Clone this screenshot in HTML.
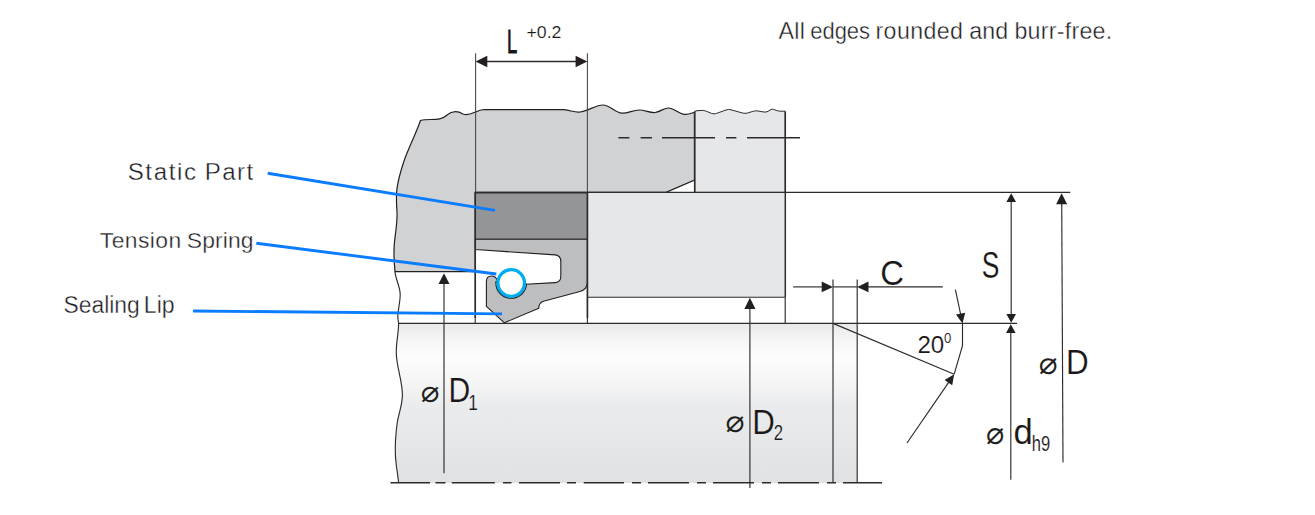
<!DOCTYPE html>
<html lang="en">
<head>
<meta charset="utf-8">
<title>Seal installation drawing</title>
<style>
html,body{margin:0;padding:0;background:#fff;}
body{width:1315px;height:515px;overflow:hidden;}
svg{display:block;}
text{font-family:"Liberation Sans","DejaVu Sans",sans-serif;}
.lbl{fill:#1c1c22;stroke:#fff;stroke-width:0.35;}
.dim{fill:#1a1718;stroke:#fff;stroke-width:0.15;}
.dia{font-family:"DejaVu Sans","Liberation Sans",sans-serif;fill:#231f20;}
.ln{stroke:#2e2b2c;fill:none;}
.ar{fill:#231f20;}
.bl{stroke:#0a7cff;stroke-width:2.9;fill:none;}
</style>
</head>
<body>
<svg width="1315" height="515" viewBox="0 0 1315 515">
<defs>
<linearGradient id="shaft" gradientUnits="userSpaceOnUse" x1="0" y1="323.4" x2="0" y2="483">
<stop offset="0" stop-color="#e8e9ea"/>
<stop offset="0.10" stop-color="#f5f5f6"/>
<stop offset="0.21" stop-color="#fdfdfd"/>
<stop offset="0.39" stop-color="#f4f4f5"/>
<stop offset="0.52" stop-color="#eaebec"/>
<stop offset="0.75" stop-color="#e6e7e8"/>
<stop offset="1" stop-color="#e0e1e2"/>
</linearGradient>
</defs>
<rect width="1315" height="515" fill="#fff"/>

<!-- shaft body -->
<path d="M395 271.6 C395.5 279 400.2 287 400.2 294.5 C400.2 302 398 310 397.8 316 C397.7 319 398.5 321 398.6 323.4 C398.6 333 396 343 396.3 353 C396.6 368 402.4 380 402.4 395 C402.4 405 398.5 414 397.2 423 C395.8 433 395 445 395.4 455 C395.8 465 398 475 398.6 483 H857.2 V323.4 H398.6 Z" fill="url(#shaft)"/>
<rect x="394" y="272" width="81" height="50.8" fill="#fff"/>

<!-- housing -->
<path d="M420.5 120.5 C430 118 440 122 447 115 C453 110 458 111 463 114 C470 117 476 110 484 109.5 L564 109.7 C570 110 575 113 580 112 C588 111 596 105 603 105 C610 105 615 113 622 113.2 C628 113.5 633 110 639 110 C645 110 650 113 655 112.5 C660 112 664 108 668.5 108 C674 108 678 113.5 684 114.3 C688 115 692 113 694.5 112.2 V180 L666 192.4 H475.4 V271.6 H395 C394 262 393.5 252 394.5 242 C395.5 232 397.5 222 397 212 C396.5 204 396 198 396.8 190 C398 180 401 170 404 161 C408 149 415 136 420.5 120.5 Z" fill="#d1d2d4" stroke="#231f20" stroke-width="1.2"/>

<!-- upper bearing block -->
<path d="M694.7 192.4 V111.2 L698 110.6 Q703.3 110 705.5 110.9 L711.5 113.4 Q714 114.4 716.5 113.4 L726 110 Q728.5 109 731 109.8 L742.5 113 Q745 113.7 747.5 113 L753.5 111.2 Q755.7 110.5 758 111 L764 112 Q766.3 112.4 768 111.3 L771 109.5 Q772.2 108.9 773.5 109.4 L777.5 110.8 Q779 111.2 781 111.2 H785.2 V192.4 Z" fill="#e6e7e8" stroke="#2e2b2c" stroke-width="1" stroke-linejoin="round"/>
<line x1="694.7" y1="111.6" x2="694.7" y2="192.4" class="ln" stroke-width="1.6"/>

<!-- lower block -->
<rect x="587.4" y="192.4" width="197.9" height="104.9" fill="#e6e7e8"/>
<path d="M587.4 297.3 H785.3" class="ln" stroke-width="1.1"/>
<line x1="785.3" y1="111.5" x2="785.3" y2="297.3" class="ln" stroke-width="1.5"/>
<line x1="785.2" y1="297.3" x2="785.2" y2="323.4" class="ln" stroke-width="1.15"/>

<!-- static part -->
<rect x="475.4" y="192.4" width="112" height="46.8" fill="#939598"/>
<line x1="475.4" y1="239.2" x2="587.4" y2="239.2" class="ln" stroke-width="1.15"/>

<!-- seal body -->
<path d="M475.4 239.2 H587.4 V282 Q587.4 290 579 291.8 L543.5 301.2 Q538.8 302.6 538.8 308.2 L504.4 322.8 L486.4 306.4 V281.5 Q486.4 276 491.3 276 Q496 276 497.5 281 L525.5 284.2 L555.2 282.6 Q560.8 282.2 560.8 276.5 V261.5 Q560.8 255.5 555 254.9 L475.4 249.5 Z" fill="#bcbec0" stroke="#231f20" stroke-width="1.1" stroke-linejoin="round"/>
<!-- tension spring -->
<path d="M496 281.6 A15.2 15.2 0 0 0 526.4 284.4 L511.2 283 Z" fill="#bcbec0" stroke="#231f20" stroke-width="1.2"/>
<circle cx="511.2" cy="283" r="13.3" fill="#fff" stroke="#00aeef" stroke-width="3.3"/>

<!-- heavy outlines -->
<path d="M475.2 318 V192.6 H587.4 V318" class="ln" stroke-width="1.7" stroke-linejoin="miter"/>
<path d="M475.2 318 V323.4 M587.4 318 V323.4" class="ln" stroke-width="1.1"/>
<line x1="587" y1="192.4" x2="1070.3" y2="192.4" class="ln" stroke-width="1.1"/>
<line x1="398.5" y1="323.4" x2="1017" y2="323.4" class="ln" stroke-width="1.3"/>

<!-- broken edge of shaft -->
<path d="M395 271.6 C395.5 279 400.2 287 400.2 294.5 C400.2 302 398 310 397.8 316 C397.7 319 398.5 321 398.6 323.4 C398.6 333 396 343 396.3 353 C396.6 368 402.4 380 402.4 395 C402.4 405 398.5 414 397.2 423 C395.8 433 395 445 395.4 455 C395.8 465 398 475 398.6 483" class="ln" stroke-width="1.15"/>

<!-- hidden line -->
<path d="M618.4 137.8 H629.4 M640.6 137.8 H652 M662 137.8 H715 M726 137.8 H736.4 M747 137.8 H800" class="ln" stroke-width="1.5"/>

<!-- centre line -->
<path d="M390.4 482.8 H430 M435.5 482.8 H445.5 M451.8 482.8 H494.8 M503 482.8 H511.5 M519 482.8 H560 M567 482.8 H576 M583.7 482.8 H624 M632 482.8 H641 M648 482.8 H689 M697 482.8 H706 M713 482.8 H754 M762 482.8 H771 M778 482.8 H819 M827 482.8 H836 M843 482.8 H882" class="ln" stroke-width="1.5"/>

<!-- dimension L -->
<line x1="475.6" y1="53.3" x2="475.6" y2="192" stroke="#4a4a4c" stroke-width="1.1"/>
<line x1="587.4" y1="53.3" x2="587.4" y2="192" stroke="#4a4a4c" stroke-width="1.1"/>
<line x1="482" y1="61.5" x2="581" y2="61.5" class="ln" stroke-width="1.6"/>
<path class="ar" d="M475.6 61.5L487.3 55.8V67.2Z M587.3 61.5L575.5999999999999 55.8V67.2Z"/>

<!-- D1 -->
<line x1="444" y1="280" x2="444" y2="473.3" class="ln" stroke-width="1.15"/>
<path class="ar" d="M444 273.2L449.5 284.0H438.5Z"/>
<!-- D2 -->
<line x1="749.9" y1="305" x2="749.9" y2="488" class="ln" stroke-width="1.15"/>
<path class="ar" d="M749.9 297.8L755.5 309.0H744.3Z"/>

<!-- chamfer C -->
<line x1="833" y1="279.4" x2="833" y2="483" class="ln" stroke-width="1.15"/>
<line x1="857.2" y1="279.4" x2="857.2" y2="483" class="ln" stroke-width="1.15"/>
<line x1="793.2" y1="286.9" x2="825" y2="286.9" class="ln" stroke-width="1.15"/>
<line x1="833" y1="286.9" x2="857" y2="286.9" class="ln" stroke-width="1.15"/>
<line x1="865" y1="286.9" x2="942.8" y2="286.9" class="ln" stroke-width="1.15"/>
<path class="ar" d="M833 286.9L821.7 281.5V292.29999999999995Z M857.2 286.9L868.5 281.5V292.29999999999995Z"/>

<!-- chamfer angle -->
<line x1="833" y1="323.4" x2="954.2" y2="374.2" class="ln" stroke-width="1.15"/>
<path d="M962.5 323.4 V345.7 L954.2 374.2" class="ln" stroke-width="1.15"/>
<line x1="955.4" y1="289.7" x2="961" y2="316" class="ln" stroke-width="1.15"/>
<path class="ar" d="M962.5 323.4 L956 314.6 L965.2 312.7 Z"/>
<line x1="907" y1="443" x2="950" y2="380.3" class="ln" stroke-width="1.15"/>
<path class="ar" d="M954.2 374.2 L952.2 385.3 L944.6 380.1 Z"/>

<!-- S -->
<line x1="1011.2" y1="200" x2="1011.2" y2="316" class="ln" stroke-width="1.15"/>
<path class="ar" d="M1011.2 193.2L1016.0 202.0H1006.4000000000001Z M1011.2 322.8L1016.0 314.0H1006.4000000000001Z"/>
<!-- d h9 -->
<line x1="1010.8" y1="331" x2="1010.8" y2="479.8" class="ln" stroke-width="1.15"/>
<path class="ar" d="M1010.8 324.2L1015.5999999999999 333.0H1006.0Z"/>
<!-- D -->
<line x1="1061.7" y1="200" x2="1063" y2="462.4" class="ln" stroke-width="1.15"/>
<path class="ar" d="M1061.6 193.2L1067.1 204.2H1056.1Z"/>

<!-- leaders -->
<line x1="267.7" y1="173.3" x2="495" y2="210.4" class="bl"/>
<line x1="256.3" y1="243.2" x2="496.3" y2="274" class="bl"/>
<line x1="193" y1="311" x2="502" y2="313.9" class="bl"/>

<!-- labels -->
<text class="lbl" y="39.0" font-size="23.2"><tspan x="778.50" letter-spacing="0.320">All</tspan> <tspan x="810.22" textLength="59.84" lengthAdjust="spacingAndGlyphs">edges</tspan> <tspan x="875.48" letter-spacing="0.395">rounded</tspan> <tspan x="969.27" letter-spacing="0.054">and</tspan> <tspan x="1014.38" letter-spacing="0.273">burr-free.</tspan></text>
<text class="lbl" y="179.8" font-size="24.1"><tspan x="127.70" letter-spacing="1.616">Static</tspan> <tspan x="204.77" letter-spacing="1.442">Part</tspan></text>
<text class="lbl" y="247.9" font-size="22.9"><tspan x="99.84" letter-spacing="0.409">Tension</tspan> <tspan x="186.75" letter-spacing="0.128">Spring</tspan></text>
<text class="lbl" y="313.0" font-size="23.5"><tspan x="63.56" textLength="76.25" lengthAdjust="spacingAndGlyphs">Sealing</tspan> <tspan x="143.86" textLength="30.77" lengthAdjust="spacingAndGlyphs">Lip</tspan></text>

<!-- dimension letters -->
<text class="dim" transform="translate(507.03 52.50) scale(0.558 1)" font-size="33.04" style="stroke:#1a1718;stroke-width:0.7" vector-effect="non-scaling-stroke">L</text>
<text class="dim" transform="translate(526.51 37.64) scale(1.084 1)" font-size="16.34">+0.2</text>
<text class="dim" transform="translate(880.26 284.65) scale(0.941 1)" font-size="34.93">C</text>
<text class="dim" transform="translate(981.71 277.84) scale(0.733 1)" font-size="36.06">S</text>
<text class="dim" transform="translate(917.40 353.06) scale(1.018 1)" font-size="23.66">20</text>
<text class="dim" transform="translate(943.97 343.06) scale(0.961 1)" font-size="13.80">0</text>
<text class="dia" transform="translate(1038.75 373.54) scale(1.019 1)" font-size="30.67">⌀</text>
<text class="dim" transform="translate(1065.99 373.80) scale(0.896 1)" font-size="35.07">D</text>
<text class="dia" transform="translate(985.97 443.73) scale(0.982 1)" font-size="31.24">⌀</text>
<text class="dim" transform="translate(1013.61 444.04) scale(0.973 1)" font-size="35.65">d</text>
<text class="dim" transform="translate(1031.84 450.69) scale(0.776 1)" font-size="21.36">h9</text>
<text class="dia" transform="translate(420.66 402.45) scale(1.025 1)" font-size="30.29">⌀</text>
<text class="dim" transform="translate(448.49 402.40) scale(0.872 1)" font-size="34.49">D</text>
<text class="dim" transform="translate(468.31 409.60) scale(0.781 1)" font-size="22.03">1</text>
<text class="dia" transform="translate(725.54 431.74) scale(1.038 1)" font-size="30.48">⌀</text>
<text class="dim" transform="translate(752.30 434.00) scale(0.899 1)" font-size="34.78">D</text>
<text class="dim" transform="translate(773.76 440.30) scale(0.750 1)" font-size="22.29">2</text>
</svg>
</body>
</html>
